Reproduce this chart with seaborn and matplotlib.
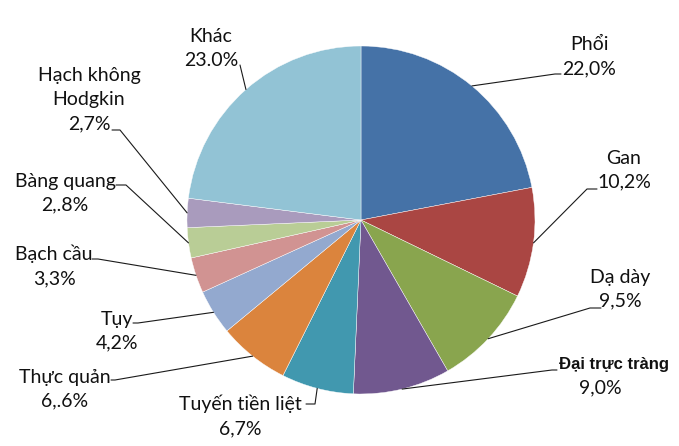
import numpy as np
import matplotlib
matplotlib.use("Agg")
import matplotlib.pyplot as plt
import seaborn as sns

# dữ liệu: tỷ lệ các loại ung thư
names = ["Phổi", "Gan", "Dạ dày", "Đại trực tràng", "Tuyến tiền liệt", "Thực quản",
         "Tụy", "Bạch cầu", "Bàng quang", "Hạch không\nHodgkin", "Khác"]
values = [22.0, 10.2, 9.5, 9.0, 6.7, 6.6, 4.2, 3.3, 2.8, 2.7, 23.0]
pct_labels = ["22,0%", "10,2%", "9,5%", "9,0%", "6,7%", "6,.6%",
              "4,2%", "3,3%", "2,.8%", "2,7%", "23.0%"]
colors = ["#4572A7", "#AA4643", "#89A54E", "#71588F", "#4198AF", "#DB843D",
          "#93A9CF", "#D19392", "#B9CD96", "#A99BBD", "#92C3D5"]

sns.set_theme(style="white")
plt.rcParams['font.family'] = ['Lato', 'DejaVu Sans']

W, H = 679, 446
CX, CY, R = 361, 220, 174


def px(x, y):
    # pixel -> toạ độ dữ liệu (tâm bánh = 0,0, bán kính = 1)
    return (x - CX) / R, (CY - y) / R


fig = plt.figure(figsize=(W / 100, H / 100), dpi=100)
ax = fig.add_axes([0, 0, 1, 1])
wedges, _ = ax.pie(values, colors=colors, startangle=90, counterclock=False,
                   radius=1, wedgeprops=dict(edgecolor="white", linewidth=0.3))
ax.set_xlim(-CX / R, (W - CX) / R)
ax.set_ylim((CY - H) / R, CY / R)
ax.set_aspect("auto")
ax.axis("off")

# vị trí nhãn (pixel, tâm chữ) và điểm gấp của đường dẫn
text_pos = [(589, 57), (624, 170), (620, 289), None, (240, 416), (65, 389),
            (117, 331), (54, 266), (65, 193), (89, 100), (211, 49)]
leader_pts = [
    [(561, 74), (555, 74)],
    [(597, 189), (587, 189)],
    [(601, 308), (590, 308)],
    [(557, 370), (552, 370)],
    [(306, 404), (315, 404)],
    [(111, 380), (115, 380)],
    [(133, 323), (138, 323)],
    [(92, 259), (98, 259)],
    [(116, 185), (126, 185)],
    [(112, 130), (120, 130)],
    [(240, 65)],
]

for i, w in enumerate(wedges):
    mid = np.deg2rad((w.theta1 + w.theta2) / 2)
    edge = (np.cos(mid), np.sin(mid))
    pts = [px(*p) for p in leader_pts[i]] + [edge]
    xs, ys = zip(*pts)
    ax.plot(xs, ys, color="#1a1a1a", linewidth=0.8)
    if text_pos[i] is not None:
        tx, ty = px(*text_pos[i])
        ax.text(tx, ty, f"{names[i]}\n{pct_labels[i]}", ha="center", va="center",
                fontsize=14, linespacing=1.5, color="#111111")

# nhãn "Đại trực tràng" in đậm, khác phông
tx, ty = px(614, 364)
ax.text(tx, ty, names[3], ha="center", va="center", fontsize=12, fontweight="bold",
        family=["Liberation Sans", "DejaVu Sans"], color="#111111")
tx, ty = px(600, 388)
ax.text(tx, ty, pct_labels[3], ha="center", va="center", fontsize=14, color="#111111")

fig.savefig("out.png", dpi=100)
